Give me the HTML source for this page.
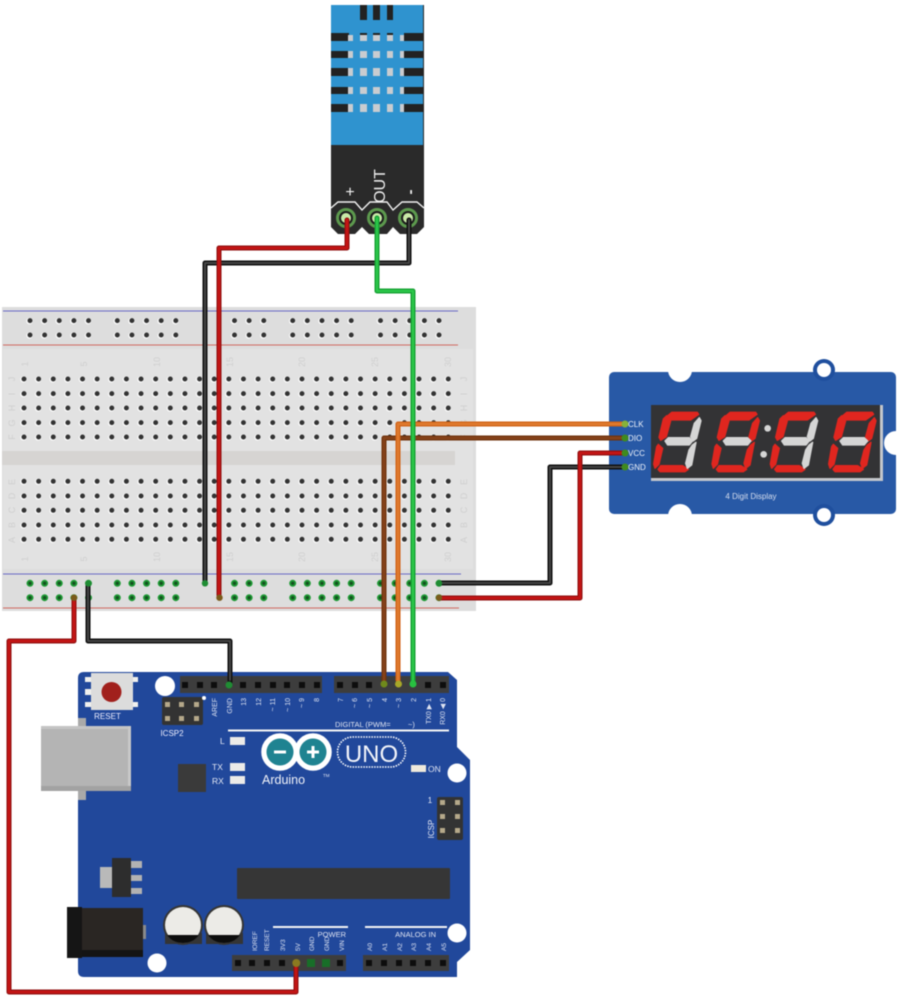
<!DOCTYPE html>
<html><head><meta charset="utf-8"><style>
html,body{margin:0;padding:0;background:#fff;width:900px;height:1001px;overflow:hidden}
svg{display:block;font-family:"Liberation Sans",sans-serif;filter:blur(.45px)}
</style></head><body>
<svg width="900" height="1001" viewBox="0 0 900 1001">
<defs>
<polygon id="t" points="215,172 292,172 296,178 272,195 212,195 202,183"/>
<polygon id="ul" points="200,182 212,198 199,245 182,256 177,247 190,192"/>
<polygon id="ur" points="298,188 303,197 290,250 280,258 272,245 283,205"/>
<polygon id="m" points="195,258 205,248 268,248 278,258 268,270 203,270"/>
<polygon id="ll" points="175,268 188,280 177,328 165,340 161,327 170,275"/>
<polygon id="lr" points="277,270 288,262 275,330 262,340 257,325 267,285"/>
<polygon id="b" points="182,332 248,332 265,343 255,350 180,350 174,343"/>
</defs>

<!-- breadboard -->
<rect x="2" y="307" width="474" height="304" fill="#dddddd"/>
<rect x="3" y="349" width="470" height="220" fill="#e2e2e2"/>
<rect x="2" y="451" width="453" height="14" fill="#d6d4d2"/>
<g stroke-width="1">
<line x1="3" y1="311" x2="458" y2="311" stroke="#6a6ac4"/>
<line x1="3" y1="345" x2="458" y2="345" stroke="#d06a62"/>
<line x1="3" y1="574" x2="461" y2="574" stroke="#6a6ac4"/>
<line x1="3" y1="608" x2="459" y2="608" stroke="#d06a62"/>
</g>
<!-- hole halos -->
<g stroke="#fbfbfb" stroke-width="6.500" stroke-linecap="round" stroke-dasharray="0 14.63" fill="none" transform="translate(-.5,.5)">
<path d="M24 379H450M24 393.6H450M24 408H450M24 422.6H450M24 437H450M24 481.3H450M24 496H450M24 510.3H450M24 525H450M24 539.3H450"/>
</g>
<g stroke="#fbfbfb" stroke-width="6.500" stroke-linecap="round" stroke-dasharray="0 14.63 0 14.63 0 14.63 0 14.63 0 43" fill="none" transform="translate(-.5,.5)">
<path d="M30 320.6H95M117.3 320.6H180M234.5 320.6H268M292.7 320.6H355M380.5 320.6H443M30 335H95M117.3 335H180M234.5 335H268M292.7 335H355M380.5 335H443"/>
</g>
<g stroke="#333" stroke-width="5" stroke-linecap="round" stroke-dasharray="0 14.63" fill="none">
<path d="M24 379H450M24 393.6H450M24 408H450M24 422.6H450M24 437H450M24 481.3H450M24 496H450M24 510.3H450M24 525H450M24 539.3H450"/>
</g>
<g stroke="#333" stroke-width="5" stroke-linecap="round" stroke-dasharray="0 14.63 0 14.63 0 14.63 0 14.63 0 43" fill="none">
<path d="M30 320.6H95M117.3 320.6H180M234.5 320.6H268M292.7 320.6H355M380.5 320.6H443M30 335H95M117.3 335H180M234.5 335H268M292.7 335H355M380.5 335H443"/>
</g>
<!-- green rail holes -->
<g stroke="#1f9a35" stroke-width="7" stroke-linecap="round" stroke-dasharray="0 14.63 0 14.63 0 14.63 0 14.63 0 43" fill="none">
<path d="M30 583.3H95M117.3 583.3H180M234.5 583.3H268M292.7 583.3H355M380.5 583.3H443M30 597.7H95M117.3 597.7H180M234.5 597.7H268M292.7 597.7H355M380.5 597.7H443"/>
</g>
<g stroke="#14501f" stroke-width="3.4" stroke-linecap="round" stroke-dasharray="0 14.63 0 14.63 0 14.63 0 14.63 0 43" fill="none">
<path d="M30 583.3H95M117.3 583.3H180M234.5 583.3H268M292.7 583.3H355M380.5 583.3H443M30 597.7H95M117.3 597.7H180M234.5 597.7H268M292.7 597.7H355M380.5 597.7H443"/>
</g>
<!-- breadboard labels -->
<g fill="#cfcfcf" font-size="9" text-anchor="middle">
<text transform="translate(28,364) rotate(-90)">1</text><text transform="translate(87,364) rotate(-90)">5</text><text transform="translate(160,362) rotate(-90)">10</text><text transform="translate(233,362) rotate(-90)">15</text><text transform="translate(305,362) rotate(-90)">20</text><text transform="translate(378,362) rotate(-90)">25</text><text transform="translate(451,362) rotate(-90)">30</text>
<text transform="translate(28,559) rotate(-90)">1</text><text transform="translate(87,559) rotate(-90)">5</text><text transform="translate(160,557) rotate(-90)">10</text><text transform="translate(233,557) rotate(-90)">15</text><text transform="translate(305,557) rotate(-90)">20</text><text transform="translate(378,557) rotate(-90)">25</text><text transform="translate(451,557) rotate(-90)">30</text>
<text transform="translate(15,379) rotate(-90)">J</text><text transform="translate(15,394) rotate(-90)">I</text><text transform="translate(15,408) rotate(-90)">H</text><text transform="translate(15,423) rotate(-90)">G</text><text transform="translate(15,437) rotate(-90)">F</text>
<text transform="translate(15,482) rotate(-90)">E</text><text transform="translate(15,496) rotate(-90)">D</text><text transform="translate(15,510) rotate(-90)">C</text><text transform="translate(15,525) rotate(-90)">B</text><text transform="translate(15,540) rotate(-90)">A</text>
<text transform="translate(467,379) rotate(-90)">J</text><text transform="translate(467,394) rotate(-90)">I</text><text transform="translate(467,408) rotate(-90)">H</text><text transform="translate(467,423) rotate(-90)">G</text><text transform="translate(467,437) rotate(-90)">F</text>
<text transform="translate(467,482) rotate(-90)">E</text><text transform="translate(467,496) rotate(-90)">D</text><text transform="translate(467,510) rotate(-90)">C</text><text transform="translate(467,525) rotate(-90)">B</text><text transform="translate(467,540) rotate(-90)">A</text>
</g>

<!-- DHT sensor -->
<rect x="331" y="5" width="93" height="229" fill="#2a2a2a"/>
<rect x="331" y="5" width="92" height="140" fill="#2f93cf"/>
<g fill="#222">
<rect x="360" y="5" width="7" height="15"/><rect x="373" y="5" width="7" height="15"/><rect x="387" y="5" width="6" height="15"/>
<rect x="331" y="33" width="18" height="8"/><rect x="331" y="51" width="18" height="7"/><rect x="331" y="68" width="18" height="8"/><rect x="331" y="87" width="18" height="7"/><rect x="331" y="104" width="18" height="8"/>
<rect x="404" y="33" width="19" height="8"/><rect x="404" y="51" width="19" height="7"/><rect x="404" y="68" width="19" height="8"/><rect x="404" y="87" width="19" height="7"/><rect x="404" y="104" width="19" height="8"/>
<rect x="360" y="33" width="7" height="2"/><rect x="373" y="33" width="7" height="2"/><rect x="387" y="33" width="6" height="2"/>
</g>
<g fill="#c9ccd0">
<path d="M348 35h5v6h-5zM360 35h7v6h-7zM373 35h7v6h-7zM387 35h6v6h-6zM400 35h4v6h-4z"/>
<path d="M348 51h5v7h-5zM360 51h7v7h-7zM373 51h7v7h-7zM387 51h6v7h-6zM400 51h4v7h-4z"/>
<path d="M348 68h5v8h-5zM360 68h7v8h-7zM373 68h7v8h-7zM387 68h6v8h-6zM400 68h4v8h-4z"/>
<path d="M348 87h5v7h-5zM360 87h7v7h-7zM373 87h7v7h-7zM387 87h6v7h-6zM400 87h4v7h-4z"/>
<path d="M348 104h5v8h-5zM360 104h7v8h-7zM373 104h7v8h-7zM387 104h6v8h-6zM400 104h4v8h-4z"/>
</g>
<polyline points="331,208 338,202 355,202 362,210 370,202 387,202 393,210 402,202 417,202 424,208" fill="none" stroke="#f2f2f2" stroke-width="1.4"/>
<g fill="#fff">
<path d="M355 234l7-7 7 7zM387 234l6-7 7 7zM331 227l7 7h-7zM424 227l-7 7h7z"/>
</g>
<g fill="#f0f0f0" text-anchor="middle">
<text x="350" y="197" font-size="16">+</text>
<text transform="translate(385,186) rotate(-90)" font-size="16">OUT</text>
<text transform="translate(415,192) rotate(-90)" font-size="15" font-weight="bold">-</text>
</g>
<g fill="#1c1c1c" stroke="#5d9a4e" stroke-width="3">
<circle cx="346" cy="218" r="8.5"/><circle cx="377" cy="218" r="8.5"/><circle cx="408" cy="218" r="8.5"/>
</g>
<g fill="#c9e9a8"><circle cx="346" cy="218" r="5"/><circle cx="377" cy="218" r="5"/><circle cx="408" cy="218" r="5"/></g>

<!-- 4 digit display -->
<rect x="609" y="372" width="287" height="142" rx="5" fill="#2859a6"/>
<circle cx="680" cy="370" r="12" fill="#fff"/>
<circle cx="680" cy="516" r="12" fill="#fff"/>
<circle cx="896" cy="443" r="12" fill="#fff"/>
<circle cx="824" cy="370" r="11" fill="#1f4f9e"/><circle cx="824" cy="370" r="7" fill="#fff"/>
<circle cx="824" cy="515" r="11" fill="#1f4f9e"/><circle cx="824" cy="515" r="7" fill="#fff"/>
<rect x="651" y="405" width="232" height="76" fill="#c4c7cc"/>
<rect x="651" y="405" width="229" height="73" fill="#333335"/>
<g transform="translate(600,355) scale(.33333)" stroke-width="4" stroke-linejoin="round">
<g fill="#e0261f" stroke="#e0261f"><use href="#t"/><use href="#ul"/><use href="#ll"/><use href="#b"/></g><g fill="#d5d5d5" stroke="#d5d5d5"><use href="#ur"/><use href="#m"/><use href="#lr"/></g>
<g transform="translate(175,0)"><g fill="#e0261f" stroke="#e0261f"><use href="#t"/><use href="#ul"/><use href="#ll"/><use href="#b"/><use href="#ur"/><use href="#lr"/></g><use href="#m" fill="#d5d5d5" stroke="#d5d5d5"/></g>
<g transform="translate(350,0)"><g fill="#e0261f" stroke="#e0261f"><use href="#t"/><use href="#ul"/><use href="#ll"/><use href="#b"/></g><g fill="#d5d5d5" stroke="#d5d5d5"><use href="#ur"/><use href="#m"/><use href="#lr"/></g></g>
<g transform="translate(525,0)"><g fill="#e0261f" stroke="#e0261f"><use href="#t"/><use href="#ul"/><use href="#ll"/><use href="#b"/><use href="#ur"/><use href="#lr"/></g><use href="#m" fill="#d5d5d5" stroke="#d5d5d5"/></g>
<circle cx="503" cy="220" r="10" fill="#d5d5d5"/><circle cx="491" cy="298" r="10" fill="#d5d5d5"/>
</g>
<g fill="#eef2fa" font-size="8">
<text x="628" y="427">CLK</text><text x="628" y="441">DIO</text><text x="628" y="456">VCC</text><text x="628" y="470">GND</text>
<text x="751" y="499" text-anchor="middle" fill="#d5ddee">4 Digit Display</text>
</g>

<!-- Arduino -->
<path d="M84 672H448L457 680V747L470 760V950L457 962V977H84Q78 977 78 971V678Q78 672 84 672Z" fill="#21489b"/>
<rect x="78" y="718" width="8" height="82" fill="#a9a9a9"/>
<rect x="41" y="726" width="90" height="65" fill="#b4b4b4"/>
<rect x="41" y="726" width="90" height="3" fill="#c4c4c4"/>
<rect x="128" y="726" width="3" height="65" fill="#c8c8c8"/>
<rect x="41" y="786" width="90" height="5" fill="#a2a2a2"/>
<!-- reset -->
<g fill="#f0f0ee"><rect x="85" y="677" width="7" height="5"/><rect x="85" y="689" width="7" height="6"/><rect x="85" y="702" width="7" height="5"/><rect x="132" y="677" width="6" height="5"/><rect x="132" y="702" width="6" height="5"/></g>
<rect x="91" y="673" width="42" height="37" fill="#dcdcdc"/>
<circle cx="111.500" cy="692" r="10" fill="#a1201c"/>
<text x="107.500" y="719" font-size="8" fill="#eef" text-anchor="middle">RESET</text>
<!-- holes -->
<g fill="#fff"><circle cx="165" cy="686" r="10"/><circle cx="457" cy="773" r="9.500"/><circle cx="457" cy="933" r="9.500"/><circle cx="157" cy="963" r="9.500"/></g>
<!-- ICSP2 -->
<rect x="162" y="697" width="41" height="28" rx="2" fill="#333"/>
<g fill="#b5a88a"><rect x="165" y="702" width="5" height="5"/><rect x="179" y="702" width="5" height="5"/><rect x="194" y="702" width="5" height="5"/><rect x="165" y="716" width="5" height="5"/><rect x="179" y="716" width="5" height="5"/><rect x="194" y="716" width="5" height="5"/></g>
<circle cx="204" cy="698" r="2" fill="#fff"/>
<text x="172" y="736" font-size="8" fill="#eef" text-anchor="middle">ICSP2</text>
<!-- headers -->
<g fill="#3d3d3d"><rect x="180" y="676" width="142" height="17"/><rect x="334" y="676" width="115" height="17"/><rect x="232" y="955" width="114" height="16"/><rect x="363" y="955" width="86" height="16"/></g>
<g fill="#0d0d0d">
<path d="M182 682h6v6h-6zM197 682h6v6h-6zM211 682h6v6h-6zM240 682h6v6h-6zM255 682h6v6h-6zM270 682h6v6h-6zM284 682h6v6h-6zM299 682h6v6h-6zM314 682h6v6h-6z"/>
<path d="M337 682h6v6h-6zM352 682h6v6h-6zM366 682h6v6h-6zM425 682h6v6h-6zM440 682h6v6h-6z"/>
<path d="M235 960h6v6h-6zM249 960h6v6h-6zM264 960h6v6h-6zM279 960h6v6h-6zM337 960h6v6h-6z"/>
<path d="M366 960h6v6h-6zM381 960h6v6h-6zM396 960h6v6h-6zM410 960h6v6h-6zM425 960h6v6h-6zM440 960h6v6h-6z"/>
</g>
<g fill="#186e28"><rect x="307" y="959" width="8" height="8"/><rect x="322" y="959" width="8" height="8"/></g>
<!-- top pin labels -->
<g fill="#dfe4f2" font-size="7" text-anchor="end">
<text transform="translate(217,698) rotate(-90)">AREF</text><text transform="translate(232,698) rotate(-90)">GND</text><text transform="translate(246,698) rotate(-90)">13</text><text transform="translate(261,698) rotate(-90)">12</text><text transform="translate(275,698) rotate(-90)">~ 11</text><text transform="translate(290,698) rotate(-90)">~ 10</text><text transform="translate(304,698) rotate(-90)">~ 9</text><text transform="translate(319,698) rotate(-90)">8</text>
<text transform="translate(343,698) rotate(-90)">7</text><text transform="translate(357,698) rotate(-90)">~ 6</text><text transform="translate(372,698) rotate(-90)">~ 5</text><text transform="translate(387,698) rotate(-90)">4</text><text transform="translate(401,698) rotate(-90)">~ 3</text><text transform="translate(416,698) rotate(-90)">2</text><text transform="translate(431,698) rotate(-90)">TX0 ▶ 1</text><text transform="translate(445,698) rotate(-90)">RX0 ◀ 0</text>
</g>
<text x="335" y="727" font-size="7.500" fill="#dfe4f2">DIGITAL (PWM=</text>
<text x="408" y="727" font-size="7.500" fill="#dfe4f2">~)</text>
<rect x="228" y="729.500" width="221" height="2" fill="#f4f4f4"/>
<!-- Arduino logo -->
<g fill="none" stroke="#fff" stroke-width="5.500"><circle cx="280" cy="752" r="16"/><circle cx="313" cy="752" r="16"/></g>
<circle cx="280" cy="752" r="13.500" fill="#1f8391"/><circle cx="313" cy="752" r="13.500" fill="#1f8391"/>
<rect x="274" y="750.500" width="12" height="3" fill="#fff"/>
<path d="M307 750.500h4.500v-4.500h3v4.500h4.500v3h-4.500v4.500h-3v-4.500h-4.500z" fill="#fff"/>
<text x="262" y="784" font-size="12.500" fill="#f0f2f8">Arduino</text>
<text x="323" y="777" font-size="4.500" fill="#dfe4f2">TM</text>
<rect x="337.500" y="737" width="68" height="30" rx="15" fill="none" stroke="#fff" stroke-width="1.600" stroke-dasharray="1.500 1.200"/>
<text x="371.500" y="762" font-size="24" fill="#f2f4fa" text-anchor="middle">UNO</text>
<rect x="411" y="765" width="15" height="7" fill="#efe9dc"/>
<text x="428" y="772" font-size="8.500" fill="#dfe4f2">ON</text>
<!-- LEDs -->
<g fill="#ecebe8"><rect x="230" y="737" width="15" height="8"/><rect x="230" y="763" width="15" height="8"/><rect x="230" y="776" width="15" height="8"/></g>
<g fill="#e5e9f5" font-size="8.500"><text x="220" y="744">L</text><text x="212" y="770">TX</text><text x="212" y="784">RX</text></g>
<rect x="178" y="764" width="28" height="28" fill="#3a3a3a"/>
<!-- ICSP right -->
<rect x="437" y="797" width="26" height="43" rx="2" fill="#333"/>
<g fill="#b5a88a"><rect x="440" y="800" width="5" height="5"/><rect x="455" y="800" width="5" height="5"/><rect x="440" y="814" width="5" height="5"/><rect x="455" y="814" width="5" height="5"/><rect x="440" y="828" width="5" height="5"/><rect x="455" y="828" width="5" height="5"/></g>
<text x="430" y="803" font-size="8" fill="#e5e9f5" text-anchor="middle">1</text>
<text transform="translate(434,829) rotate(-90)" font-size="8" fill="#e5e9f5" text-anchor="middle">ICSP</text>
<!-- chips -->
<rect x="237" y="868" width="213" height="31" rx="1" fill="#363636"/>
<rect x="100" y="867" width="12" height="21" fill="#b9b9b9"/>
<g fill="#b2b2b2"><rect x="131" y="861" width="11" height="7"/><rect x="131" y="875" width="11" height="6"/><rect x="131" y="888" width="11" height="6"/></g>
<rect x="112" y="858" width="19" height="39" fill="#2d2d2d"/>
<!-- jack -->
<rect x="143" y="925" width="3" height="14" fill="#8a8a8a"/>
<rect x="67" y="908" width="76" height="49" fill="#2a2623"/>
<rect x="67" y="907" width="15" height="51" fill="#151515"/>
<rect x="82" y="950" width="61" height="7" fill="#141414"/>
<!-- caps -->
<g>
<circle cx="183" cy="925" r="20" fill="#353535"/><circle cx="224" cy="925" r="20" fill="#353535"/>
<rect x="165" y="933" width="37" height="11" fill="#353535"/><rect x="206" y="933" width="37" height="11" fill="#353535"/>
<circle cx="183" cy="925" r="18" fill="#ecebe7"/><circle cx="224" cy="925" r="18" fill="#ecebe7"/>
<path d="M167 935H199Q193 943 183 943T167 935ZM208 935H240Q234 943 224 943T208 935Z" fill="#0d0d0d"/>
</g>
<!-- bottom labels -->
<rect x="273" y="926" width="75" height="2" fill="#f4f4f4"/>
<rect x="365" y="926" width="82" height="2" fill="#f4f4f4"/>
<g fill="#dfe4f2" font-size="7.500" text-anchor="end">
<text x="346" y="937">POWER</text><text x="436" y="937">ANALOG IN</text>
</g>
<g fill="#dfe4f2" font-size="6.500">
<text transform="translate(257,951) rotate(-90)">IOREF</text><text transform="translate(269,951) rotate(-90)">RESET</text><text transform="translate(285,951) rotate(-90)">3V3</text><text transform="translate(300,951) rotate(-90)">5V</text><text transform="translate(314,951) rotate(-90)">GND</text><text transform="translate(329,951) rotate(-90)">GND</text><text transform="translate(344,951) rotate(-90)">VIN</text>
<text transform="translate(372,951) rotate(-90)">A0</text><text transform="translate(387,951) rotate(-90)">A1</text><text transform="translate(402,951) rotate(-90)">A2</text><text transform="translate(416,951) rotate(-90)">A3</text><text transform="translate(431,951) rotate(-90)">A4</text><text transform="translate(446,951) rotate(-90)">A5</text>
</g>

<!-- wires -->
<g fill="none" stroke-linejoin="round" stroke-linecap="round">
<g stroke="#111" stroke-width="5"><path d="M409 220V263H205V581"/><path d="M88 585V641H230V682"/><path d="M623 467H550V583H441"/></g>
<g stroke="#4a4a4a" stroke-width="1.800"><path d="M409 220V263H205V581"/><path d="M88 585V641H230V680"/><path d="M622 467H550V583H442"/></g>
<g stroke="#8e1010" stroke-width="5"><path d="M347 220V248H219V595"/><path d="M74 599V641H9V992H296V966"/><path d="M623 453H580V598H441"/></g>
<g stroke="#c41414" stroke-width="2.800"><path d="M347 220V248H219V595"/><path d="M74 599V641H9V992H296V966"/><path d="M622 453H580V598H442"/></g>
<path d="M623 438H384V680" stroke="#6f330e" stroke-width="5"/>
<path d="M622 438H384V680" stroke="#86431a" stroke-width="2.500"/>
<path d="M623 424H398V680" stroke="#cf6217" stroke-width="5"/>
<path d="M622 424H398V680" stroke="#e07a2e" stroke-width="2.500"/>
<path d="M377 218V291H413V682" stroke="#17a034" stroke-width="5"/>
<path d="M377 218V291H413V682" stroke="#2cc94a" stroke-width="2.200"/>
</g>
<!-- wire ends -->
<g fill="#86b23a"><circle cx="625" cy="424" r="3.500"/><circle cx="384" cy="684" r="3.500" fill="#6f8a1c"/><circle cx="398.500" cy="684" r="3.500" fill="#a8a828"/></g>
<g fill="#3f8a1f"><circle cx="625" cy="438" r="3.500"/><circle cx="625" cy="453" r="3.500"/><circle cx="625" cy="467" r="3.500"/><circle cx="413" cy="684" r="3.500" fill="#28c040"/><circle cx="229" cy="685" r="3.500" fill="#1f8c33"/>
<circle cx="205" cy="583.300" r="3.200" fill="#1f8c33"/><circle cx="88.300" cy="583.300" r="3.200" fill="#1f8c33"/><circle cx="439" cy="583.300" r="3.200" fill="#1f8c33"/>
<circle cx="219.500" cy="597.700" r="3.200" fill="#7a5a1a"/><circle cx="74" cy="597.700" r="3.200" fill="#7a5a1a"/><circle cx="439" cy="597.700" r="3.200" fill="#7a5a1a"/></g>
<circle cx="296.300" cy="963" r="4" fill="#8a7a20"/>
</svg>
</body></html>
